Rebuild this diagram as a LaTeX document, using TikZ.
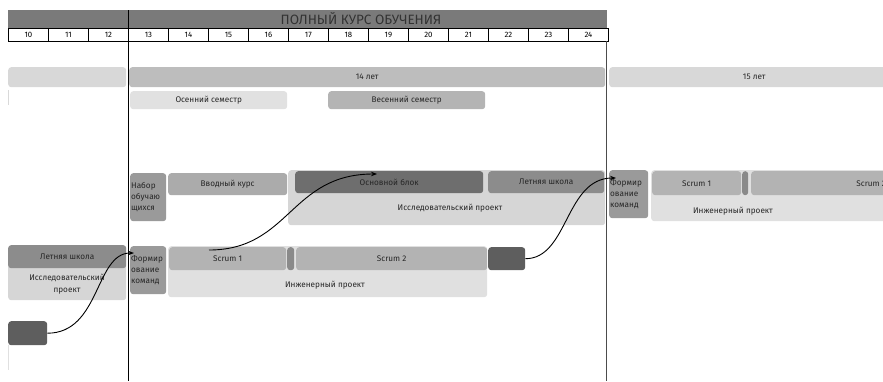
\documentclass[tikz,border=0pt]{standalone}
\usepackage{fontspec}
\setmainfont{Fira Sans}
\usepackage{tikz}
\usetikzlibrary{arrows.meta,calc,positioning}

\definecolor{cTitle}{HTML}{7A7A7A}
\definecolor{cDark}{HTML}{5E5E5E}
\definecolor{cCore}{HTML}{6E6E6E}
\definecolor{cSummer}{HTML}{8C8C8C}
\definecolor{cTeam}{HTML}{9A9A9A}
\definecolor{cIntro}{HTML}{ABABAB}
\definecolor{cScrum}{HTML}{B3B3B3}
\definecolor{cGap}{HTML}{8A8A8A}
\definecolor{cSpring}{HTML}{B4B4B4}
\definecolor{cAge}{HTML}{BDBDBD}
\definecolor{cResBg}{HTML}{D6D6D6}
\definecolor{cLight}{HTML}{D8D8D8}
\definecolor{cEngBg}{HTML}{E0E0E0}
\definecolor{cPale}{HTML}{E1E1E1}

\begin{document}
\begin{tikzpicture}[
      x=1pt, y=-1pt,
      box/.style={rounded corners=3pt, inner sep=0pt, anchor=north west,
        align=center, font=\fontsize{8.2}{11}\selectfont, text=black!85},
      narrow/.style={box, align=left, fill=cTeam},
      cell/.style={draw=black, line width=0.8pt, minimum width=40pt,
        minimum height=13pt, inner sep=0pt, anchor=north west,
        font=\fontsize{7.8}{8}\selectfont},
      lbl/.style={font=\fontsize{8.2}{12}\selectfont, text=black!85, align=center},
      arrow/.style={-{Stealth[length=6pt, width=4.5pt]}, line width=0.9pt, draw=black}
    ]
    \useasboundingbox (0,0) rectangle (883,381);
    \clip (0,0) rectangle (883,381);

    % header
    \node[box, rounded corners=0pt, fill=cTitle, minimum width=599pt,
      minimum height=18pt] (titleBar) at (8,10) {};
    \node[font=\fontsize{13.5}{14}\selectfont, text=black!80] (title) at (361,19)
      {ПОЛНЫЙ КУРС ОБУЧЕНИЯ};
    \foreach \n [count=\i from 0] in {10,...,24}
      \node[cell] (cell\n) at (8+40*\i,28) {\n};

    % years
    \node[box, fill=cLight, minimum width=118pt, minimum height=20pt] (age13) at (8,67) {};
    \node[box, fill=cAge, minimum width=476pt, minimum height=20pt] (age14) at (129,67) {14 лет};
    \node[box, fill=cLight, minimum width=290pt, minimum height=20pt] (age15) at (609,67) {15 лет};

    \node[box, fill=cPale, minimum width=157pt, minimum height=18pt] (autumn) at (130,91)
      {Осенний семестр};
    \node[box, fill=cSpring, minimum width=157pt, minimum height=18pt] (spring) at (328,91)
      {Весенний семестр};

    % first year
    \node[narrow, minimum width=36pt, minimum height=48pt, text width=34pt] (recruit) at (130,173)
      {Набор\\обучаю\\щихся};
    \node[box, fill=cIntro, minimum width=119pt, minimum height=22pt] (intro) at (168,173)
      {Вводный курс};
    \node[box, fill=cResBg, minimum width=317pt, minimum height=55pt] (researchBg) at (288,170) {};
    \node[box, fill=cCore, minimum width=188pt, minimum height=22pt] (core) at (295,171)
      {Основной блок};
    \node[box, fill=cSummer, minimum width=116pt, minimum height=22pt] (summerB) at (488,171)
      {Летняя школа};
    \node[lbl] (researchText) at (450,208) {Исследовательский проект};

    % second year
    \node[narrow, minimum width=39pt, minimum height=48pt, text width=37pt] (teamC) at (609,170)
      {Формир\\ование\\команд};
    \node[box, fill=cEngBg, minimum width=240pt, minimum height=51pt] (engBgB) at (651,170) {};
    \node[box, fill=cScrum, minimum width=89pt, minimum height=24pt] (scrumC) at (652,171) {Scrum 1};
    \node[box, fill=cGap, minimum width=6pt, minimum height=24pt] (gapC) at (742,171) {};
    \node[box, fill=cScrum, minimum width=240pt, minimum height=24pt] (scrumD) at (751,171) {Scrum 2};
    \node[lbl] (engTextB) at (733,211) {Инженерный проект};

    % previous year and engineering track
    \node[box, fill=cResBg, minimum width=118pt, minimum height=55pt] (researchBgA) at (8,245) {};
    \node[box, fill=cSummer, minimum width=118pt, minimum height=23pt] (summerA) at (8,245)
      {Летняя школа};
    \node[lbl] (researchTextA) at (67,284) {Исследовательский\\проект};
    \node[narrow, minimum width=36pt, minimum height=48pt, text width=34pt] (teamA) at (130,246)
      {Формир\\ование\\команд};
    \node[box, fill=cEngBg, minimum width=319pt, minimum height=51pt] (engBgA) at (168,246) {};
    \node[box, fill=cScrum, minimum width=117pt, minimum height=23pt] (scrumA) at (169,247) {Scrum 1};
    \node[box, fill=cGap, minimum width=7pt, minimum height=23pt] (gapA) at (287,247) {};
    \node[box, fill=cScrum, minimum width=191pt, minimum height=23pt] (scrumB) at (296,247) {Scrum 2};
    \node[box, fill=cDark, minimum width=37pt, minimum height=23pt] (endDark) at (488,247) {};
    \node[lbl] (engTextA) at (325,285) {Инженерный проект};
    \node[box, fill=cDark, minimum width=39pt, minimum height=24pt] (prevDark) at (8,321) {};

    % dividers
    \draw[line width=1pt] (128,10) -- (128,381);
    \draw[line width=1pt, draw=black!70] (606,41) -- (606,381);
    \draw[black!15, line width=0.6pt] (8,90) -- (8,105);
    \draw[black!12, line width=0.6pt] (8,345) -- (8,370);

    \draw[arrow] (prevDark.east) .. controls +(53,0) and +(-39,0) .. ($(teamA.north west)+(4,7)$);
    \draw[arrow] ($(scrumA.north west)+(40,3)$) .. controls +(81,0) and +(-87,0) .. ($(core.north west)+(82,3)$);
    \draw[arrow] (endDark.east) .. controls +(43,0) and +(-51,0) .. ($(teamC.north west)+(7,8)$);
  \end{tikzpicture}
\end{document}
